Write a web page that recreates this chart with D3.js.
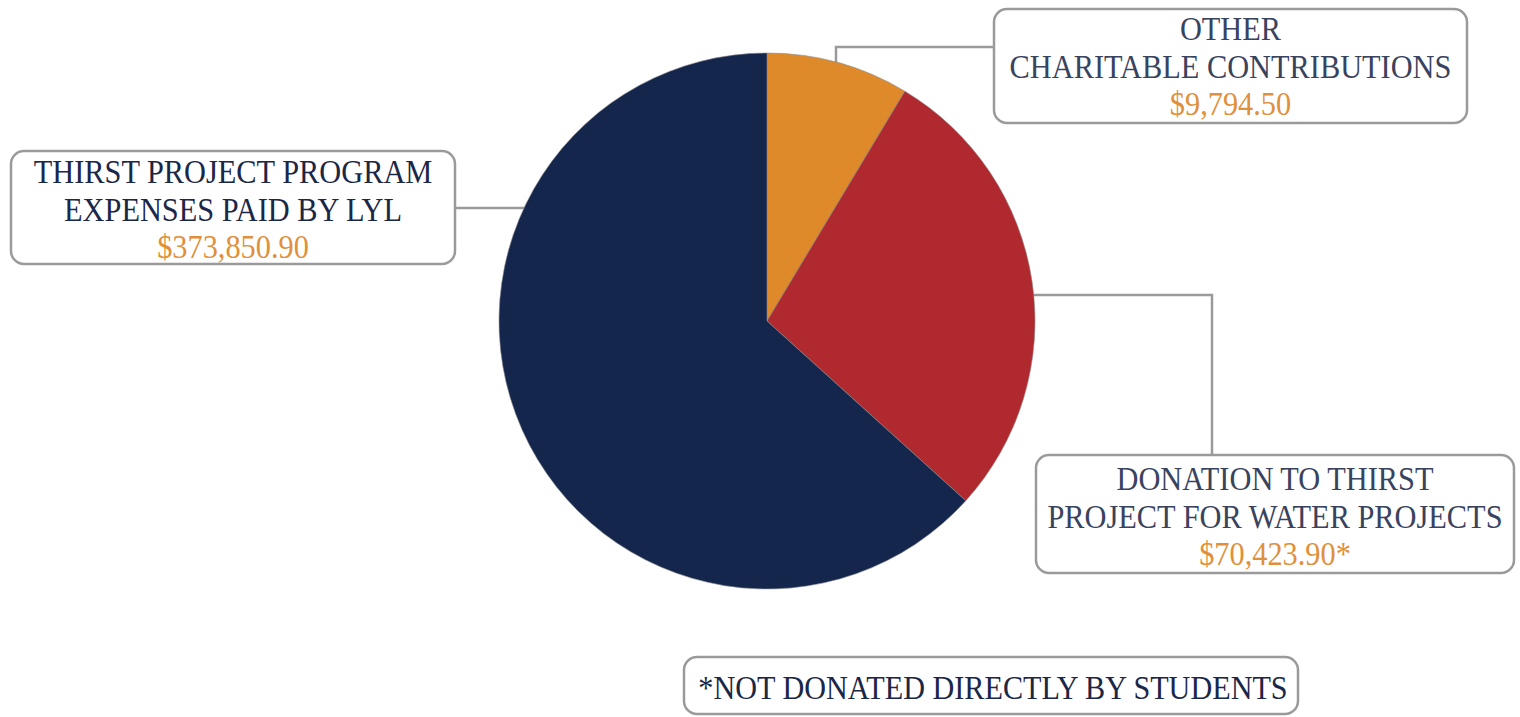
<!DOCTYPE html>
<html>
<head>
<meta charset="utf-8">
<script src="https://cdn.jsdelivr.net/npm/d3@7"></script>
<style>
  body { margin: 0; background: #fff; }
  svg { display: block; }
</style>
</head>
<body>
<div id="pie_chart"></div>
<script>
// slices are listed clockwise from 12 o'clock
const CATEGORIES = ["Other charitable contributions", "Donation to Thirst Project", "Thirst Project program expenses"];
const LABEL_LINES = [
    ["OTHER", "CHARITABLE CONTRIBUTIONS"],
    ["DONATION TO THIRST", "PROJECT FOR WATER PROJECTS"],
    ["THIRST PROJECT PROGRAM", "EXPENSES PAID BY LYL"]
];
const AMOUNTS = ["$9,794.50", "$70,423.90*", "$373,850.90"];
// share of the circle as drawn in the picture (percent)
const SHARES = [8.6, 28.1, 63.3];
const COLORS = ["#de8a2a", "#b0292f", "#15264d"];
const FOOTNOTE = "*NOT DONATED DIRECTLY BY STUDENTS";

const [width, height] = [1520, 717];
const [cx, cy, radius] = [767, 321, 268];
const AMOUNT_COLOR = "#e0903a";
const LINE_COLOR = "#9a9a9a";
const FONT = "'Liberation Serif', 'DejaVu Serif', serif";
const SQUEEZE = 0.88;

// label boxes: x, y, w, h, text colour, and where the connector goes
const BOXES = [
    { x: 994, y: 9, w: 473, h: 114, lineY: 47, color: "#39435e", top: 31 },
    { x: 1036, y: 455, w: 478, h: 118, lineX: 1212, color: "#39435e", top: 35 },
    { x: 11, y: 151, w: 444, h: 113, lineY: 208, color: "#1b2747", top: 32 }
];

const svg = d3.select("#pie_chart").append("svg")
    .attr("width", width)
    .attr("height", height);

const pie = d3.pie().sort(null).value(d => d);
const arc = d3.arc().innerRadius(0).outerRadius(radius);
const arcs = pie(SHARES);

// connectors first so the pie covers their ends
function edgeX(y, side) {
    let dy = y - cy;
    return cx + side * Math.sqrt(radius * radius - dy * dy);
}
function edgeY(x, side) {
    let dx = x - cx;
    return cy + side * Math.sqrt(radius * radius - dx * dx);
}

const conn = svg.append("g")
    .attr("fill", "none")
    .attr("stroke", LINE_COLOR)
    .attr("stroke-width", 2.5);

// top right: horizontal from the box then down to the orange slice
let midTop = cx + 69;
conn.append("path")
    .attr("d", d3.line()([[BOXES[0].x, BOXES[0].lineY], [midTop, BOXES[0].lineY], [midTop, edgeY(midTop, -1) + 4]]));

// right: from the red slice across, then down to the box
let yRight = 295;
conn.append("path")
    .attr("d", d3.line()([[edgeX(yRight, 1) - 4, yRight], [BOXES[1].lineX, yRight], [BOXES[1].lineX, BOXES[1].y]]));

// left: box to navy slice
conn.append("path")
    .attr("d", d3.line()([[BOXES[2].x + BOXES[2].w, BOXES[2].lineY], [edgeX(BOXES[2].lineY, -1) + 4, BOXES[2].lineY]]));

svg.append("g")
    .attr("transform", `translate(${cx},${cy})`)
    .selectAll("path")
    .data(arcs)
    .join("path")
    .attr("d", arc)
    .attr("fill", (d, i) => COLORS[i])
    .attr("stroke", "#8a8a8a")
    .attr("stroke-width", 0.6);

function addText(x, y, str, size, color) {
    svg.append("text")
        .attr("transform", `translate(${x},${y}) scale(${SQUEEZE},1)`)
        .attr("text-anchor", "middle")
        .attr("font-family", FONT)
        .attr("font-size", size)
        .attr("fill", color)
        .text(str);
}

function addBox(b) {
    svg.append("rect")
        .attr("x", b.x)
        .attr("y", b.y)
        .attr("width", b.w)
        .attr("height", b.h)
        .attr("rx", 13)
        .attr("fill", "#fff")
        .attr("stroke", LINE_COLOR)
        .attr("stroke-width", 2.5);
}

BOXES.forEach((b, i) => {
    addBox(b);
    let mid = b.x + b.w / 2;
    LABEL_LINES[i].forEach((line, j) => {
        addText(mid, b.y + b.top + j * 38, line, 34.5, b.color);
    });
    addText(mid, b.y + b.top + 2 * 36 + 3, AMOUNTS[i], 34.5, AMOUNT_COLOR);
});

// footnote
addBox({ x: 684, y: 657, w: 614, h: 57 });
addText(993, 699, FOOTNOTE, 34.3, "#1b2747");
</script>
</body>
</html>
